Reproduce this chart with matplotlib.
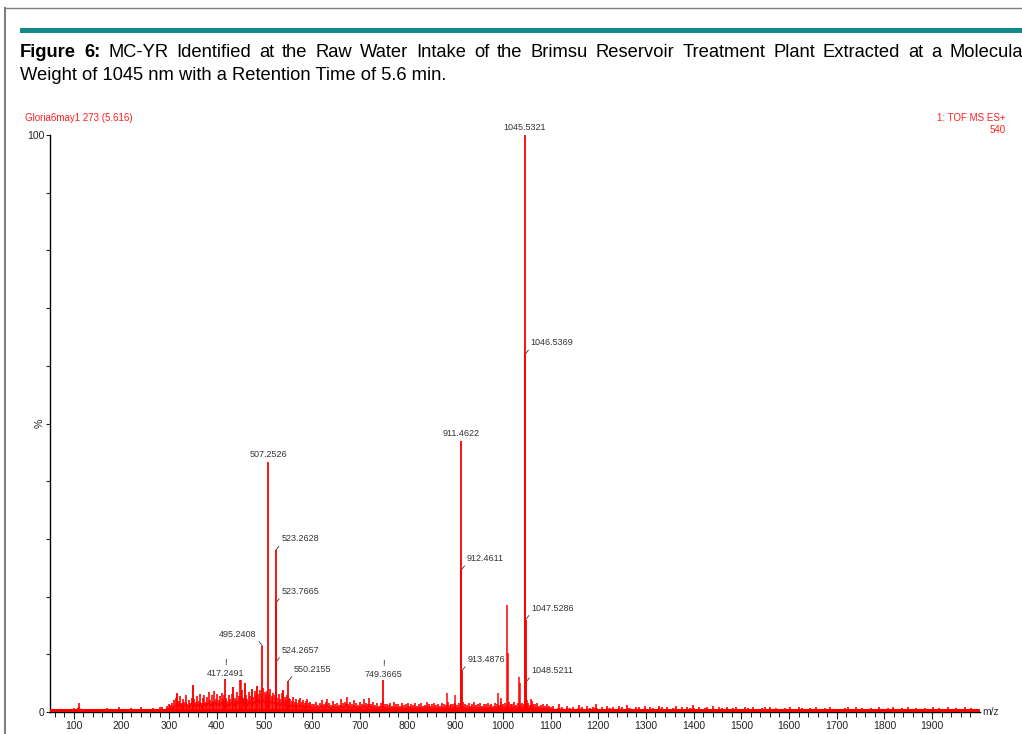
import numpy as np
import matplotlib
matplotlib.use("Agg")
import matplotlib.pyplot as plt
from matplotlib.lines import Line2D
from matplotlib.patches import Rectangle

plt.rcParams['font.family'] = ['Liberation Sans', 'DejaVu Sans']

# labelled peaks (m/z, % intensity)
peak_mz = [417.2491, 495.2408, 507.2526, 523.2628, 523.7665, 524.2657, 550.2155,
           749.3665, 911.4622, 912.4611, 913.4876, 1045.5321, 1046.5369,
           1047.5286, 1048.5211]
peak_int = [5.7, 11.5, 43.3, 28.0, 18.9, 8.7, 5.4,
            5.5, 47.0, 24.6, 7.1, 100.0, 62.0,
            16.0, 5.2]

# unlabelled peaks
extra_mz = [316, 350, 434, 450, 459, 474, 484, 538,
            882, 899, 989, 996, 1009, 1010, 1033, 1036, 1051, 1058]
extra_int = [3.2, 4.7, 4.3, 5.5, 5.0, 4.0, 4.5, 3.8,
             3.3, 3.0, 3.3, 2.5, 18.5, 10.2, 6.0, 5.0, 2.0, 2.3]

# background noise, read region by region
noise_a = [0.4, 0.3, 0.5, 0.6, 0.4, 0.5, 0.3, 0.6, 0.5, 0.4,
           0.7, 0.5, 1.6, 0.6, 0.4, 0.5, 0.3, 0.6, 0.4, 0.5,
           0.6, 0.4, 0.5, 0.3, 0.7, 0.5, 0.6, 0.4, 0.5, 0.8,
           0.4, 0.6, 0.5, 0.3, 0.7, 0.6, 0.5, 0.4, 0.9, 0.5,
           0.6, 0.4, 0.5, 0.7, 0.6, 0.4, 0.8, 0.9, 0.6, 1.1,
           1.3]  # 50..300 step 5
noise_b = [1.2, 1.6, 1.1, 2.0, 2.5, 3.3, 1.9, 2.7, 1.5, 2.2,
           1.8, 3.0, 1.4, 2.0, 1.6, 2.5, 4.6, 2.2, 1.7, 2.8,
           1.9, 3.2, 1.5, 2.4, 3.0, 1.8, 2.6, 3.4, 2.1, 2.9,
           1.7, 3.6, 2.3, 3.1, 2.0, 2.7, 3.3, 2.2, 2.9, 2.5,
           1.9, 3.0, 2.3, 3.2, 4.3, 2.4, 2.1, 3.5, 2.7, 5.5,
           3.8, 2.5, 5.0, 3.0, 2.2, 3.4, 2.8, 4.0, 2.6, 3.6,
           3.0, 4.5, 3.2, 3.8, 3.0, 4.1, 3.4, 2.9, 3.7, 3.1,
           4.0, 2.7, 3.3, 3.0, 3.5, 2.5, 3.1, 2.3, 3.3, 3.8,
           2.6, 2.1, 2.9, 2.4, 2.3, 1.9, 2.6, 1.8, 2.2, 1.6,
           2.0, 2.4, 1.7, 2.1, 1.5, 1.9, 2.2, 1.6, 1.8, 1.4]  # 302..599 step 3
noise_c = [1.4, 1.8, 1.2, 1.6, 2.1, 1.3, 1.7, 2.3, 1.5, 1.2,
           1.9, 1.4, 1.6, 1.2, 2.2, 1.5, 1.8, 2.6, 1.4, 1.7,
           1.3, 2.0, 1.5, 1.2, 1.8, 1.4, 2.2, 1.6, 1.3, 2.5,
           1.4, 1.7, 1.2, 1.5, 1.1, 1.6, 1.9, 1.3, 1.4, 1.2,
           1.5, 1.1, 1.7, 1.3, 1.4, 1.0, 1.6, 1.2, 1.3, 1.5,
           1.1, 1.4, 1.2, 1.6, 1.0, 1.3, 1.5, 1.1, 1.2, 1.8,
           1.4, 1.1, 1.3, 1.6, 1.2, 1.4, 1.0, 1.5, 1.3, 1.2,
           1.7, 1.2, 1.4, 1.3, 1.6, 1.2, 1.5, 1.4, 1.8, 1.3,
           1.2, 1.5, 1.1, 1.4, 1.7, 1.2, 1.3, 1.6, 1.1, 1.4,
           1.3, 1.5, 1.2, 1.4, 1.1, 1.6, 1.3, 1.2, 1.8, 1.4,
           1.5, 1.2, 1.7, 1.3, 1.4, 1.8, 1.2, 1.5, 1.3, 1.6,
           1.4, 2.1, 1.6, 1.2, 1.9, 1.4, 1.3, 1.5, 1.1, 1.2,
           1.4, 1.0, 1.3, 1.1, 0.9]  # 604..1100 step 4
noise_d = [1.0, 0.6, 1.3, 0.8, 0.5, 1.1, 0.7, 0.9, 0.6, 1.2,
           0.8, 0.5, 1.0, 0.7, 0.9, 1.3, 0.6, 0.8, 0.5, 1.1,
           0.7, 0.9, 0.6, 1.0, 0.8, 0.5, 1.2, 0.7, 0.6, 0.9,
           0.8, 0.5, 1.0, 0.6, 0.9, 0.7, 0.5, 1.1, 0.8, 0.6,
           0.9, 0.5, 0.7, 1.0, 0.6, 0.8, 0.5, 0.9, 0.7, 1.2,
           0.6, 0.8, 0.5, 0.7, 0.9, 0.6, 1.0, 0.5, 0.8, 0.7,
           0.5, 0.9, 0.6, 0.7, 0.8, 0.5, 0.6, 0.9, 0.7, 0.5,
           0.8, 0.6, 0.5, 0.7, 0.9, 0.6, 0.8, 0.5, 0.7, 0.6,
           0.5, 0.7, 0.6, 0.8, 0.5, 0.6, 0.9, 0.7, 0.5, 0.6,
           0.7, 0.5, 0.8, 0.6, 0.5, 0.7, 0.6, 0.8, 0.5, 0.6,
           0.6, 0.5, 0.7, 0.9, 0.6, 0.5, 0.8, 0.6, 0.7, 0.5,
           0.5, 0.7, 0.6, 0.5, 0.8, 0.6, 0.5, 0.7, 0.6, 0.9,
           0.6, 0.5, 0.7, 0.6, 0.8, 0.5, 0.6, 0.7, 0.5, 0.6,
           0.7, 0.6, 0.5, 0.8, 0.6, 0.7, 0.5, 0.6, 0.9, 0.6,
           0.5, 0.7, 0.6, 0.5, 0.8, 0.6, 0.7, 0.5, 0.6, 0.5]  # 1105..1999 step 6

xticks = list(range(100, 2000, 100))

# label placement: 'top' centred, 'right' with leader, 'left', 'bang'
label_pos = {417.2491: 'bang', 495.2408: 'left', 507.2526: 'top', 523.2628: 'right',
             523.7665: 'right', 524.2657: 'right', 550.2155: 'right', 749.3665: 'bang',
             911.4622: 'top', 912.4611: 'right', 913.4876: 'right', 1045.5321: 'top',
             1046.5369: 'right', 1047.5286: 'right', 1048.5211: 'right'}

caption1 = [("Figure", 'bold'), ("6:", 'bold')] + [
    (w, 'normal') for w in "MC-YR Identified at the Raw Water Intake of the Brimsu Reservoir "
                           "Treatment Plant Extracted at a Molecular".split()]
caption2 = "Weight of 1045 nm with a Retention Time of 5.6 min."

W, H = 1022, 734
fig = plt.figure(figsize=(W / 100, H / 100), dpi=100)

def fx(px):
    return px / W

def fy(py):
    return 1 - py / H

# page frame, teal rule, caption
fig.add_artist(Line2D([fx(5), fx(5)], [fy(8), fy(740)], color='#808080', lw=1.5))
fig.add_artist(Line2D([fx(5), fx(1030)], [fy(8), fy(8)], color='#808080', lw=1.0))
fig.add_artist(Rectangle((fx(20), fy(33)), fx(1030) - fx(20), fy(28) - fy(33),
                         color='#13898a', lw=0))

# justified first caption line (runs past the right edge as in the source)
cap_fs = 13.2
words = [fig.text(0, fy(57), w, fontsize=cap_fs, fontweight=wt, va='baseline') for w, wt in caption1]
fig.canvas.draw()
r = fig.canvas.get_renderer()
widths = [t.get_window_extent(r).width for t in words]
gap = (1029 - 20 - sum(widths)) / (len(words) - 1)
x = 20
for t, wd in zip(words, widths):
    t.set_x(fx(x))
    x += wd + gap
fig.text(fx(20), fy(80), caption2, fontsize=cap_fs, va='baseline')

fig.text(fx(25), fy(118), "Gloria6may1 273 (5.616)", fontsize=7, color='#ff2020', va='center')
fig.text(fx(1006), fy(118), "1: TOF MS ES+", fontsize=7, color='#ff2020', va='center', ha='right')
fig.text(fx(1006), fy(130), "540", fontsize=7, color='#ff2020', va='center', ha='right')

ax = fig.add_axes([fx(50), fy(712), fx(979.7) - fx(50), fy(135) - fy(712)])
ax.set_xlim(50, 2000)
ax.set_ylim(0, 100)

noise_mz = np.concatenate([np.arange(50, 301, 5), np.arange(302, 600, 3),
                           np.arange(604, 1101, 4), np.arange(1105, 2000, 6)])
noise_int = np.array(noise_a + noise_b + noise_c + noise_d)

ax.vlines(noise_mz, 0, noise_int, color='#ff0000', lw=1.2, zorder=3)
ax.plot(noise_mz, noise_int * 0.5, color='#ff0000', lw=1.0, zorder=3)
ax.vlines(extra_mz, 0, extra_int, color='#ff0000', lw=1.1, zorder=3)
ax.vlines(peak_mz, 0, peak_int, color='#ff0000', lw=1.3, zorder=4, clip_on=False)
ax.plot([50, 1995], [0.3, 0.3], color='#ff0000', lw=2.2, zorder=3)

lab_kw = dict(fontsize=6.5, color='#333333', textcoords='offset points')
for m, v in zip(peak_mz, peak_int):
    s = f"{m:.4f}"
    style = label_pos[m]
    if style == 'top':
        ax.annotate(s, xy=(m, v), xytext=(0, 2), ha='center', va='bottom', **lab_kw)
    elif style == 'bang':
        ax.annotate("!\n" + s, xy=(m, v), xytext=(0, 1), ha='center', va='bottom',
                    linespacing=1.2, **lab_kw)
    elif style == 'right':
        ax.annotate(s, xy=(m, v), xytext=(4, 5), ha='left', va='bottom',
                    arrowprops=dict(arrowstyle='-', color='#333333', lw=0.6,
                                    shrinkA=0, shrinkB=0, relpos=(0, 0)), **lab_kw)
    else:
        ax.annotate(s, xy=(m, v), xytext=(-4, 5), ha='right', va='bottom',
                    arrowprops=dict(arrowstyle='-', color='#333333', lw=0.6,
                                    shrinkA=0, shrinkB=0, relpos=(1, 0)), **lab_kw)

for sp in ['top', 'right']:
    ax.spines[sp].set_visible(False)
ax.spines['left'].set_linewidth(1.0)
ax.spines['bottom'].set_linewidth(1.0)

ax.set_xticks(xticks)
ax.set_xticks(np.arange(60, 2000, 20), minor=True)
ax.tick_params(axis='x', which='major', length=5, width=0.8, labelsize=7.5, pad=1.5, colors='#222222')
ax.tick_params(axis='x', which='minor', length=3.5, width=0.7, colors='#222222')

ax.set_yticks(np.arange(0, 101, 10))
ax.set_yticklabels(['0', '', '', '', '', '%', '', '', '', '', '100'])
ax.tick_params(axis='y', length=3, width=0.8, labelsize=7.5, pad=1, colors='#222222')
for lbl in ax.get_yticklabels():
    if lbl.get_text() == '%':
        lbl.set_rotation(90)
        lbl.set_va('center')

ax.text(1.003, 0.0, "m/z", transform=ax.transAxes, fontsize=7.5, color='#333333',
        ha='left', va='center')

fig.savefig("out.png", dpi=100)
